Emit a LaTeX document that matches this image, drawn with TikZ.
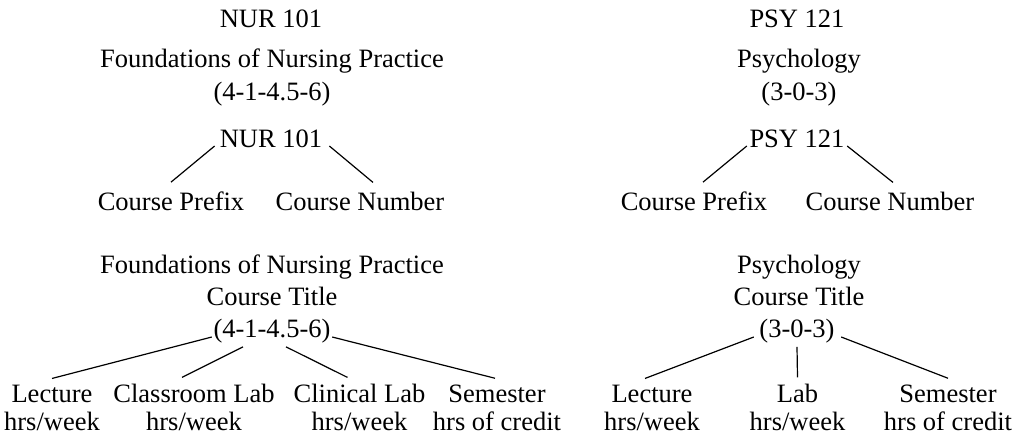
\documentclass[tikz,border=0pt]{standalone}
\usepackage{fontspec}
\setmainfont{Liberation Serif}
\begin{document}
\begin{tikzpicture}[x=1pt, y=-1pt,
    every node/.style={inner sep=0pt, anchor=base, font=\fontsize{26.5}{28}\selectfont},
    leaf/.style={align=center, inner ysep=6pt},
    link/.style={line width=1.2pt}]
    \useasboundingbox (0,0) rectangle (1023,437);
    % nursing course: heading
    \node (nurcode) at (271,27) {NUR 101};
    \node[align=center] (nurname) at (272,100) {Foundations of Nursing Practice\\[5pt](4-1-4.5-6)};
    % nursing course: prefix and number
    \node (nurhub) at (271,147) {NUR 101};
    \node[leaf] (nurpre) at (171,210) {Course Prefix};
    \node[leaf] (nurnum) at (360,210) {Course Number};
    \draw[link] ([xshift=-5pt,yshift=1pt]nurhub.base west) -- ([yshift=3pt]nurpre.north);
    \draw[link] ([xshift=7pt,yshift=1pt]nurhub.base east) -- ([xshift=13pt,yshift=3pt]nurnum.north);
    % nursing course: title and hours
    \node[align=center] (nurtitle) at (272,305) {Foundations of Nursing Practice\\[4pt]Course Title};
    \node (nurrate) at (272,337) {(4-1-4.5-6)};
    \node[leaf] (nurlec) at (52,430) {Lecture\\hrs/week};
    \node[leaf] (nurclass) at (194,430) {Classroom Lab\\hrs/week};
    \node[leaf] (nurclin) at (359.5,430) {Clinical Lab\\hrs/week};
    \node[leaf] (nursem) at (497,430) {Semester\\hrs of credit};
    \draw[link] ([xshift=-1.5pt]nurrate.base west) -- (nurlec.north);
    \draw[link] ([xshift=-29pt,yshift=-4pt]nurrate.south) -- ([xshift=-12pt]nurclass.north);
    \draw[link] ([xshift=14pt,yshift=-4pt]nurrate.south) -- ([xshift=-12pt]nurclin.north);
    \draw[link] ([xshift=1.5pt]nurrate.base east) -- ([xshift=-2pt]nursem.north);
    % psychology course: heading
    \node (psycode) at (797,27) {PSY 121};
    \node[align=center] (psyname) at (799,100) {Psychology\\[5pt](3-0-3)};
    % psychology course: prefix and number
    \node (psyhub) at (797,147) {PSY 121};
    \node[leaf] (psypre) at (694,210) {Course Prefix};
    \node[leaf] (psynum) at (890,210) {Course Number};
    \draw[link] ([xshift=-2.5pt,yshift=1pt]psyhub.base west) -- ([xshift=9pt,yshift=3pt]psypre.north);
    \draw[link] ([xshift=2.5pt,yshift=1pt]psyhub.base east) -- ([xshift=3pt,yshift=3pt]psynum.north);
    % psychology course: title and hours
    \node[align=center] (psytitle) at (799,305) {Psychology\\[4pt]Course Title};
    \node (psyrate) at (797,337) {(3-0-3)};
    \node[leaf] (psylec) at (652,430) {Lecture\\hrs/week};
    \node[leaf] (psylab) at (797.5,430) {Lab\\hrs/week};
    \node[leaf] (psysem) at (948,430) {Semester\\hrs of credit};
    \draw[link] ([xshift=-5.5pt]psyrate.base west) -- ([xshift=-7pt]psylec.north);
    \draw[link] ([yshift=-4pt]psyrate.south) -- (psylab.north);
    \draw[link] ([xshift=6.5pt]psyrate.base east) -- (psysem.north);
\end{tikzpicture}
\end{document}
